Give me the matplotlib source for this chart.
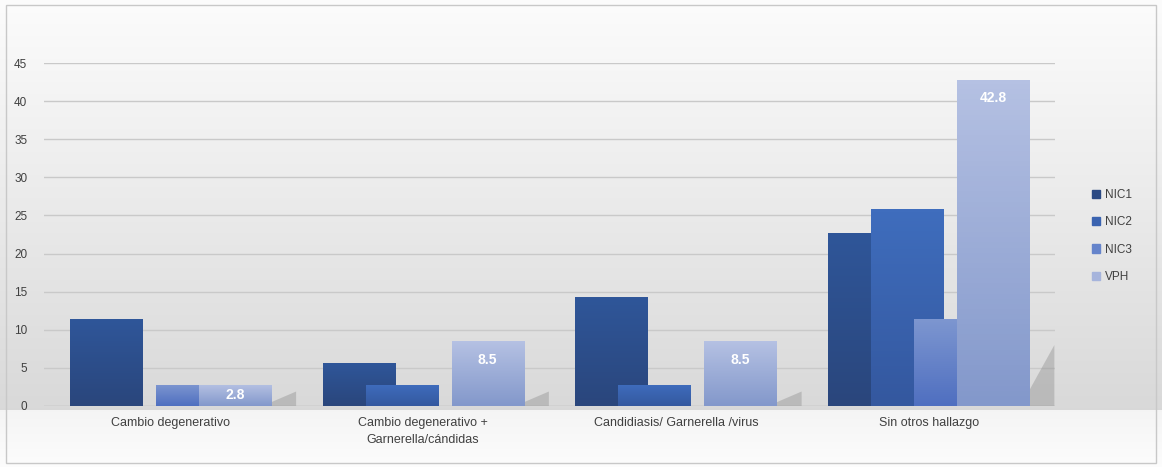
import numpy as np
import matplotlib
matplotlib.use("Agg")
import matplotlib.pyplot as plt
from matplotlib.colors import LinearSegmentedColormap
from matplotlib.patches import Rectangle, Polygon

categories = ["Cambio degenerativo",
              "Cambio degenerativo +\nGarnerella/cándidas",
              "Candidiasis/ Garnerella /virus",
              "Sin otros hallazgo"]
series = ["NIC1", "NIC2", "NIC3", "VPH"]
nic1 = [11.4, 5.6, 14.3, 22.7]
nic2 = [0, 2.8, 2.8, 25.8]
nic3 = [2.8, 0, 0, 11.4]
vph = [2.8, 8.5, 8.5, 42.8]
values = [nic1, nic2, nic3, vph]
yticks = [0, 5, 10, 15, 20, 25, 30, 35, 40, 45]

# (bottom, top) colours of the gradient per series
grad = [("#2a467c", "#2f5699"),
        ("#34589f", "#3f6dbd"),
        ("#4f6fc0", "#7d96d0"),
        ("#8398cb", "#b5c1e3")]
legend_col = ["#2b4a84", "#3a63b0", "#6584cb", "#a6b4dc"]

plt.rcParams["font.family"] = ["Liberation Sans", "DejaVu Sans"]
W, H = 1162, 467
fig = plt.figure(figsize=(W / 100, H / 100), dpi=100)

# background
bg = fig.add_axes([0, 0, 1, 1], zorder=-10)
rows = np.arange(H)
shade = np.empty(H)
for i, r in enumerate(rows):
    if r < 410:
        t = max(r - 10, 0) / 400
        shade[i] = 0.985 - 0.135 * t
    else:
        t = (r - 410) / (H - 410)
        shade[i] = 0.96 + 0.03 * t
img = np.repeat(shade[:, None], 10, axis=1)
bg.imshow(np.dstack([img, img, img]), aspect="auto", extent=(0, 1, 0, 1))
bg.add_patch(Rectangle((6 / W, 4 / H), 1 - 12 / W, 1 - 9 / H, fill=False,
                       edgecolor="#c8c8c8", lw=1))
bg.set_xlim(0, 1)
bg.set_ylim(0, 1)
bg.axis("off")

ax = fig.add_axes([44 / W, 61 / H, 1011 / W, 343 / H])
ax.patch.set_alpha(0)
x = np.arange(len(categories))
width = 0.285
step = 0.170

for i, (name, vals) in enumerate(zip(series, values)):
    pos = x + (i - 1.5) * step
    bars = ax.bar(pos, vals, width, color=grad[i][1], edgecolor=(1, 1, 1, 0.35),
                  lw=0.6, zorder=3 + 2 * i, label=name)
    cmap = LinearSegmentedColormap.from_list(name, [grad[i][0], grad[i][1]])
    for b, v in zip(bars, vals):
        if v <= 0:
            continue
        x0 = b.get_x()
        im = ax.imshow(np.linspace(0, 1, 64)[::-1, None], cmap=cmap, aspect="auto",
                       extent=(x0, x0 + width, 0, v), zorder=3 + 2 * i + 0.5)
        im.set_clip_path(b)
        if name == "VPH":
            # soft shadow at the foot of the back bars
            top = 8.0 if v > 20 else 1.9
            sh = Polygon([(x0 + width, 0), (x0 + width + 0.1, 0.0),
                          (x0 + width + 0.1, top),
                          (x0 + width, top * 0.25)],
                         closed=True, facecolor="#8c8c8c", alpha=0.4,
                         edgecolor="none", zorder=2)
            ax.add_patch(sh)
            ty = max(v - 2.4, v / 2)
            ax.text(b.get_x() + width / 2, ty, f"{v:.1f}", ha="center", va="center",
                    color="white", fontsize=10, fontweight="bold", zorder=20)

ax.set_xlim(-0.5, 3.5)
ax.set_ylim(0, 45)
ax.set_yticks(yticks)
ax.set_xticks(x)
ax.set_xticklabels(categories, fontsize=9, color="#404040", linespacing=1.5)
ax.tick_params(axis="y", labelsize=8.5, colors="#404040", length=0, pad=12)
ax.tick_params(axis="x", length=0, pad=8)
ax.grid(axis="y", color="#c9c9c9", lw=1)
ax.set_axisbelow(True)
for s in ax.spines.values():
    s.set_visible(False)
ax.axhline(0, color="#c4c4c4", lw=1, zorder=1)

handles = [Rectangle((0, 0), 1, 1, color=c) for c in legend_col]
leg = fig.legend(handles, series, loc="center left", bbox_to_anchor=(1081 / W, 1 - 236 / H),
                 frameon=False, fontsize=8.5, handlelength=0.7, handleheight=0.7,
                 handletextpad=0.4, labelspacing=1.3)
for t in leg.get_texts():
    t.set_color("#404040")

fig.savefig("out.png", dpi=100)
